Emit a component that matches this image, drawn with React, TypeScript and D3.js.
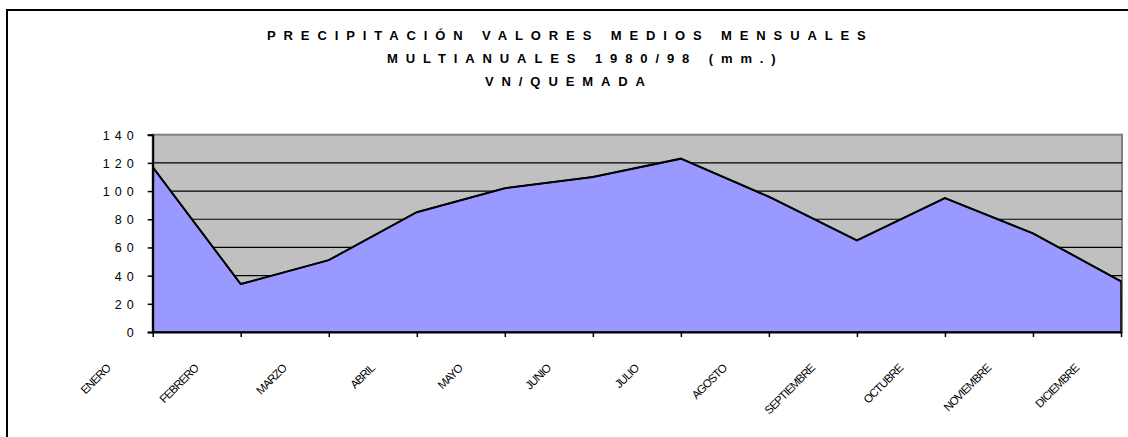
import React, { useEffect, useRef } from "react";
import * as d3 from "d3";

// monthly mean precipitation (mm), VN/Quemada 1980-98
const months = [
  "ENERO",
  "FEBRERO",
  "MARZO",
  "ABRIL",
  "MAYO",
  "JUNIO",
  "JULIO",
  "AGOSTO",
  "SEPTIEMBRE",
  "OCTUBRE",
  "NOVIEMBRE",
  "DICIEMBRE"
];
const precipitation = [117, 34, 51, 85, 102, 110, 123, 96, 65, 95, 70, 36];
const yTicks = [0, 20, 40, 60, 80, 100, 120, 140];
const titleLines = [
  "PRECIPITACIÓN VALORES MEDIOS MENSUALES",
  "MULTIANUALES 1980/98 (mm.)",
  "VN/QUEMADA"
];

export default function App() {
  const ref = useRef<SVGSVGElement>(null);

  useEffect(() => {
    const width = 1128,
      height = 437;
    const plot = { left: 152.7, right: 1121, top: 134.7, bottom: 332 };

    const svg = d3.select(ref.current);
    svg.selectAll("*").remove();

    // outer chart frame
    svg
      .append("rect")
      .attr("x", 7)
      .attr("y", 10)
      .attr("width", width + 20)
      .attr("height", height + 20)
      .attr("fill", "#fff")
      .attr("stroke", "#000")
      .attr("stroke-width", 2);

    // title
    const titleX = [267, 387, 485];
    const titleY = [40, 63, 86];
    svg
      .selectAll(".title")
      .data(titleLines)
      .enter()
      .append("text")
      .attr("class", "title")
      .attr("x", (d, i) => titleX[i])
      .attr("y", (d, i) => titleY[i])
      .style("font-family", "'Liberation Sans', Arial, sans-serif")
      .style("font-size", "13px")
      .style("font-weight", "bold")
      .style("letter-spacing", "7.9px")
      .attr("fill", "#000")
      .text(d => d);

    const x = d3
      .scalePoint<string>()
      .domain(months)
      .range([plot.left, plot.right]);
    const y = d3
      .scaleLinear()
      .domain([0, 140])
      .range([plot.bottom, plot.top]);

    // plot area background
    svg
      .append("rect")
      .attr("x", plot.left)
      .attr("y", plot.top)
      .attr("width", plot.right + 1 - plot.left)
      .attr("height", plot.bottom - plot.top)
      .attr("fill", "#c0c0c0")
      .attr("stroke", "#808080")
      .attr("stroke-width", 2);

    // gridlines
    svg
      .selectAll(".grid")
      .data(yTicks.filter(t => t > 0 && t < 140))
      .enter()
      .append("line")
      .attr("x1", plot.left)
      .attr("x2", plot.right + 1)
      .attr("y1", d => y(d))
      .attr("y2", d => y(d))
      .attr("stroke", "#000")
      .attr("stroke-width", 1.2);

    // area
    const area = d3
      .area<number>()
      .x((d, i) => x(months[i]) as number)
      .y0(y(0))
      .y1(d => y(d));
    svg
      .append("path")
      .datum(precipitation)
      .attr("d", area)
      .attr("fill", "#9999ff")
      .attr("stroke", "#000")
      .attr("stroke-width", 1.5);

    const line = d3
      .line<number>()
      .x((d, i) => x(months[i]) as number)
      .y(d => y(d));
    svg
      .append("path")
      .datum(precipitation)
      .attr("d", line)
      .attr("fill", "none")
      .attr("stroke", "#000")
      .attr("stroke-width", 2);

    // y axis
    const yAxis = svg
      .append("g")
      .attr("transform", "translate(" + plot.left + ",0)")
      .call(
        d3
          .axisLeft(y)
          .tickValues(yTicks)
          .tickSize(5)
          .tickFormat(d => String(d))
      );
    yAxis.select(".domain").attr("stroke", "#000").attr("stroke-width", 2);
    yAxis.selectAll(".tick line").attr("stroke", "#000").attr("stroke-width", 1.5);
    yAxis
      .selectAll(".tick text")
      .attr("x", -14)
      .attr("dy", "0.36em")
      .style("font-family", "'Liberation Sans', Arial, sans-serif")
      .style("font-size", "12.5px")
      .style("letter-spacing", "5px")
      .style("fill", "#000");

    // x axis
    const xAxis = svg
      .append("g")
      .attr("transform", "translate(0," + plot.bottom + ")")
      .call(d3.axisBottom(x).tickSize(5).tickSizeOuter(0));
    xAxis.select(".domain").attr("stroke", "#000").attr("stroke-width", 2);
    xAxis.selectAll(".tick line").attr("stroke", "#000").attr("stroke-width", 1.5);
    xAxis
      .selectAll(".tick text")
      .attr("x", 0)
      .attr("y", 0)
      .attr("dy", 0)
      .attr("text-anchor", "end")
      .attr("transform", "translate(-42,37) rotate(-45)")
      .style("font-family", "'Liberation Sans', Arial, sans-serif")
      .style("font-size", "11.5px")
      .style("letter-spacing", "-0.9px")
      .style("fill", "#000");
  }, []);

  return (
    <svg
      ref={ref}
      width={1128}
      height={437}
      style={{ position: "absolute", left: 0, top: 0, background: "#fff" }}
    />
  );
}
